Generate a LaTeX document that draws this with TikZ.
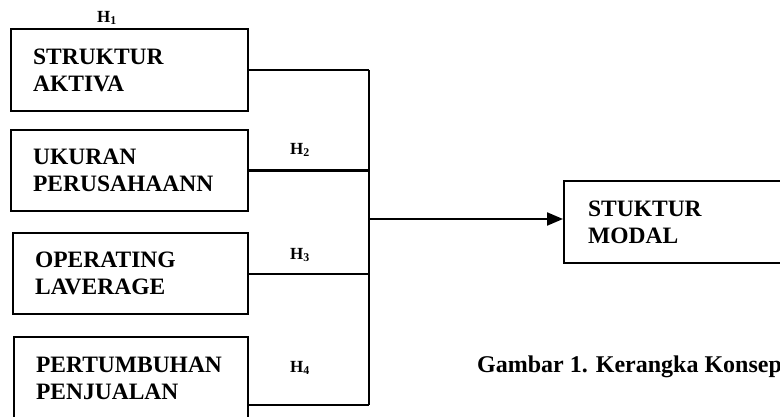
\documentclass[tikz,border=0pt]{standalone}
\usepackage{fontspec}
\setmainfont{Liberation Serif}
\usetikzlibrary{arrows.meta}
\begin{document}
\begin{tikzpicture}[x=1pt,y=-1pt,
  box/.style={draw,line width=2.2pt,anchor=north west,align=left,
    inner xsep=22pt,inner ysep=0pt,
    font=\fontsize{23.5}{27}\selectfont\bfseries},
  conn/.style={line width=2.2pt},
  hlab/.style={font=\fontsize{17}{20}\selectfont\bfseries,inner sep=0pt}]
\useasboundingbox (0,0) rectangle (780,417);
\clip (0,0) rectangle (780,417);
\node[box,minimum width=237pt,minimum height=82pt,text width=193pt] (b1) at (10,28) {STRUKTUR\\AKTIVA};
\node[box,minimum width=237pt,minimum height=81pt,text width=193pt] (b2) at (10,129) {UKURAN\\PERUSAHAANN};
\node[box,minimum width=235pt,minimum height=81pt,text width=191pt] (b3) at (12,232) {OPERATING\\LAVERAGE};
\node[box,minimum width=234pt,minimum height=83pt,text width=190pt] (b4) at (13,336) {PERTUMBUHAN\\PENJUALAN};
\node[box,minimum width=240pt,minimum height=82pt,text width=196pt,inner xsep=24pt] (b5) at (563,180) {STUKTUR\\MODAL};
\coordinate (bus) at (369,219);
\coordinate (b4out) at ([yshift=-26pt]b4.east);
\draw[conn] (b1.east) -- (b1.east -| bus);
\draw[conn] (b2.east) -- (b2.east -| bus);
\draw[conn] (b3.east) -- (b3.east -| bus);
\draw[conn] (b4out) -- (b4out -| bus);
\draw[conn] (b1.east -| bus) -- (b4out -| bus);
\draw[conn,-{Triangle[length=16pt,width=13pt]}] (bus) -- (bus -| b5.west);
\node[hlab] (h1) at (107,18) {H\textsubscript{1}};
\node[hlab] (h2) at (300,150) {H\textsubscript{2}};
\node[hlab] (h3) at (300,255) {H\textsubscript{3}};
\node[hlab] (h4) at (300,368) {H\textsubscript{4}};
\node[anchor=base west,inner sep=0pt,font=\fontsize{24}{28}\selectfont\bfseries] (cap) at (477,372) {Gambar 1. Kerangka Konsep};
\end{tikzpicture}
\end{document}
